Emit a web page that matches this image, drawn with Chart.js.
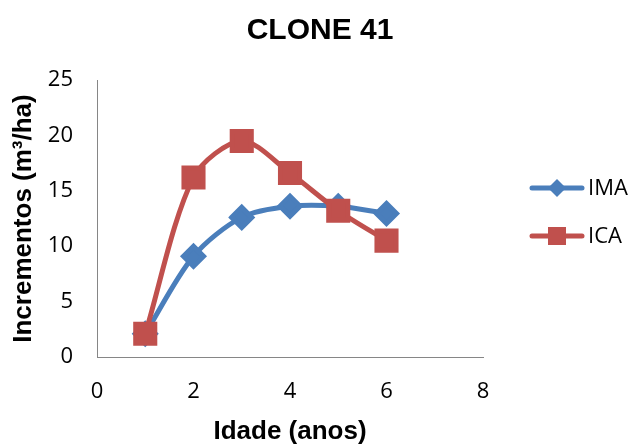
<!DOCTYPE html>
<html>
<head>
<meta charset="utf-8">
<script src="https://cdn.jsdelivr.net/npm/chart.js@4/dist/chart.umd.min.js"></script>
<style>
  html, body { margin: 0; padding: 0; background: #fff; }
  #wrap { width: 632px; height: 447px; }
</style>
</head>
<body>
<div id="wrap"><canvas id="chart" width="632" height="447"></canvas></div>
<script>
const idade = [1, 2, 3, 4, 5, 6];
const ima = [2.1, 9.1, 12.6, 13.6, 13.6, 12.95];
const ica = [2.1, 16.2, 19.5, 16.6, 13.2, 10.5];
const seriesNames = ['IMA', 'ICA'];

const blue = '#4A7EBB';
const red = '#C0504D';

// legend drawn by hand: line with marker, like the spreadsheet one
const sideLegend = {
  id: 'sideLegend',
  afterDraw(chart) {
    const ctx = chart.ctx;
    const rows = [188, 236];
    chart.data.datasets.slice().sort((a, b) => a.legendIndex - b.legendIndex).forEach((ds, i) => {
      const y = rows[i];
      ctx.save();
      ctx.strokeStyle = ds.borderColor;
      ctx.lineWidth = 5;
      ctx.lineCap = 'round';
      ctx.beginPath();
      ctx.moveTo(532, y);
      ctx.lineTo(582, y);
      ctx.stroke();
      ctx.fillStyle = ds.pointBackgroundColor;
      ctx.beginPath();
      if (ds.pointStyle === 'rect') {
        ctx.rect(557 - 9, y - 9, 18, 18);
      } else {
        ctx.moveTo(557, y - 9);
        ctx.lineTo(566, y);
        ctx.lineTo(557, y + 9);
        ctx.lineTo(548, y);
        ctx.closePath();
      }
      ctx.fill();
      ctx.fillStyle = '#000';
      ctx.font = '22px "Open Sans"';
      ctx.textBaseline = 'middle';
      ctx.fillText(ds.label, 588, y + 1);
      ctx.restore();
    });
  }
};

new Chart(document.getElementById('chart'), {
  type: 'line',
  data: {
    datasets: [
      {
        label: seriesNames[0],
        legendIndex: 0,
        order: 1,
        data: idade.map((x, i) => ({ x: x, y: ima[i] })),
        borderColor: blue,
        backgroundColor: blue,
        pointBackgroundColor: blue,
        pointBorderColor: blue,
        pointStyle: 'rectRot',
        pointRadius: 10,
        borderWidth: 5,
        tension: 0.3
      },
      {
        label: seriesNames[1],
        legendIndex: 1,
        order: 0,
        data: idade.map((x, i) => ({ x: x, y: ica[i] })),
        borderColor: red,
        backgroundColor: red,
        pointBackgroundColor: red,
        pointBorderColor: red,
        pointStyle: 'rect',
        pointRadius: 13.5,
        borderWidth: 5,
        tension: 0.3
      }
    ]
  },
  options: {
    responsive: false,
    animation: false,
    events: [],
    layout: { padding: { left: 8, right: 0, top: 0, bottom: 0 } },
    plugins: {
      legend: { display: false },
      tooltip: { enabled: false },
      title: {
        display: true,
        text: 'CLONE 41',
        color: '#000',
        font: { family: 'Liberation Sans', size: 30, weight: 'bold' },
        padding: { top: 13, bottom: 31 }
      }
    },
    scales: {
      x: {
        type: 'linear',
        min: 0,
        max: 8,
        ticks: { stepSize: 2, color: '#000', font: { family: 'Open Sans', size: 22 }, padding: 22 },
        grid: { display: false, drawTicks: false },
        border: { color: '#868686', width: 1 },
        title: {
          display: true,
          text: 'Idade (anos)',
          color: '#000',
          font: { family: 'Liberation Sans', size: 26, weight: 'bold' },
          padding: { top: 0, bottom: 0 }
        },
        afterFit(scale) { scale.height = 90; }
      },
      y: {
        min: 0,
        max: 25,
        ticks: { stepSize: 5, color: '#000', font: { family: 'Open Sans', size: 22 }, padding: 24 },
        grid: { display: false, drawTicks: false },
        border: { color: '#868686', width: 1 },
        title: {
          display: true,
          text: 'Incrementos (m³/ha)',
          color: '#000',
          font: { family: 'Liberation Sans', size: 26, weight: 'bold' },
          padding: { top: 0, bottom: 4 }
        },
        afterFit(scale) { scale.width = 89; }
      },
      // empty axis on the right keeps room for the legend
      side: {
        position: 'right',
        ticks: { display: false },
        grid: { display: false, drawTicks: false },
        border: { display: false },
        afterFit(scale) { scale.width = 149; }
      }
    }
  },
  plugins: [sideLegend]
});
</script>
</body>
</html>
